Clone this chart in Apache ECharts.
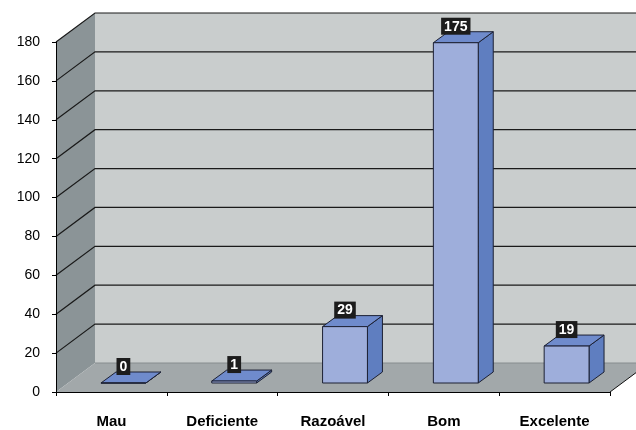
<!DOCTYPE html>
<html>
<head>
<meta charset="utf-8">
<script src="https://cdn.jsdelivr.net/npm/echarts@6/dist/echarts.min.js"></script>
<style>
  html, body { margin: 0; padding: 0; background: #fff; }
  #main { width: 636px; height: 430px; }
</style>
</head>
<body>
<div id="main"></div>
<script>
// dados
var categories = ['Mau', 'Deficiente', 'Razoável', 'Bom', 'Excelente'];
var values = [0, 1, 29, 175, 19];
var yMin = 0, yMax = 180, yStep = 20;

// profundidade do "3D" (pixels)
var DX = 39, DY = -29;          // parede de fundo
var BFX = 12, BFY = -9;         // frente da barra
var BDX = 15, BDY = -11;        // espessura da barra
var FONT = '"Liberation Sans", Arial, sans-serif';

var chart = echarts.init(document.getElementById('main'));

function renderWalls(params, api) {
    var cs = params.coordSys;
    var x0 = cs.x, x1 = cs.x + cs.width;
    var yb = api.coord([0, yMin])[1];
    var yt = api.coord([0, yMax])[1];
    var kids = [];
    // parede de fundo
    kids.push({type: 'polygon', shape: {points: [[x0 + DX, yt + DY], [x1 + DX, yt + DY], [x1 + DX, yb + DY], [x0 + DX, yb + DY]]},
        style: {fill: '#c9cdcd'}});
    // parede lateral
    kids.push({type: 'polygon', shape: {points: [[x0, yb], [x0, yt], [x0 + DX, yt + DY], [x0 + DX, yb + DY]]},
        style: {fill: '#8b9497'}});
    // chão
    kids.push({type: 'polygon', shape: {points: [[x0, yb], [x1, yb], [x1 + DX, yb + DY], [x0 + DX, yb + DY]]},
        style: {fill: '#a2a8aa'}});
    kids.push({type: 'line', shape: {x1: x0 + DX, y1: yb + DY, x2: x1 + DX, y2: yb + DY},
        style: {stroke: '#868c8e', lineWidth: 1}});
    kids.push({type: 'line', shape: {x1: x1, y1: yb, x2: x1 + DX, y2: yb + DY},
        style: {stroke: '#111', lineWidth: 1}});
    // linhas de grelha
    for (var v = yMin + yStep; v <= yMax; v += yStep) {
        var y = api.coord([0, v])[1];
        kids.push({type: 'polyline', shape: {points: [[x0, y], [x0 + DX, y + DY], [x1 + DX, y + DY]]},
            style: {stroke: '#1a1a1a', lineWidth: 1.2, fill: null}});
    }
    return {type: 'group', children: kids};
}

function renderBar(params, api) {
    var idx = api.value(0), val = api.value(1);
    var base = api.coord([idx, 0]);
    var top = api.coord([idx, val]);
    var w = api.size([1, 0])[0] * 0.405;
    var cx = base[0] + BFX;
    var l = cx - w / 2, r = cx + w / 2;
    var yb = base[1] + BFY, yt = top[1] + BFY;
    var edge = {stroke: '#1c2033', lineWidth: 1, lineJoin: 'round'};
    return {
        type: 'group',
        children: [
            {type: 'polygon', shape: {points: [[r, yt], [r, yb], [r + BDX, yb + BDY], [r + BDX, yt + BDY]]},
                style: Object.assign({fill: '#5f7ec0'}, edge)},
            {type: 'polygon', shape: {points: [[l, yt], [r, yt], [r + BDX, yt + BDY], [l + BDX, yt + BDY]]},
                style: Object.assign({fill: '#6f8bcc'}, edge)},
            {type: 'polygon', shape: {points: [[l, yt], [r, yt], [r, yb], [l, yb]]},
                style: Object.assign({fill: '#9eaedb'}, edge)},
            {type: 'text', x: cx, y: yt - 8,
                style: {text: String(val), fill: '#fff', font: 'bold 14px ' + FONT,
                    backgroundColor: '#1c1c1c', padding: [2, 3, 1, 3],
                    align: 'center', verticalAlign: 'bottom'}}
        ]
    };
}

var barData = values.map(function (v, i) { return [i, v]; });

var option = {
    animation: false,
    backgroundColor: '#fff',
    grid: {left: 56, right: 26, top: 42, bottom: 38, containLabel: false},
    xAxis: {
        type: 'category',
        data: categories,
        z: 5,
        axisLine: {lineStyle: {color: '#000', width: 1}},
        axisTick: {show: true, length: 4, lineStyle: {color: '#000'}},
        axisLabel: {color: '#000', fontWeight: 'bold', fontSize: 15, fontFamily: FONT, margin: 22},
        splitLine: {show: false}
    },
    yAxis: {
        type: 'value',
        min: yMin, max: yMax, interval: yStep,
        z: 5,
        axisLine: {show: true, lineStyle: {color: '#000', width: 1}},
        axisTick: {show: true, length: 4, lineStyle: {color: '#000'}},
        axisLabel: {color: '#000', fontSize: 14, fontFamily: FONT, margin: 16},
        splitLine: {show: false}
    },
    series: [{
        type: 'custom',
        z: 1,
        silent: true,
        renderItem: renderWalls,
        data: [[0, 0]]
    }, {
        type: 'custom',
        z: 3,
        renderItem: renderBar,
        encode: {x: 0, y: 1},
        data: barData
    }]
};

chart.setOption(option);
</script>
</body>
</html>
